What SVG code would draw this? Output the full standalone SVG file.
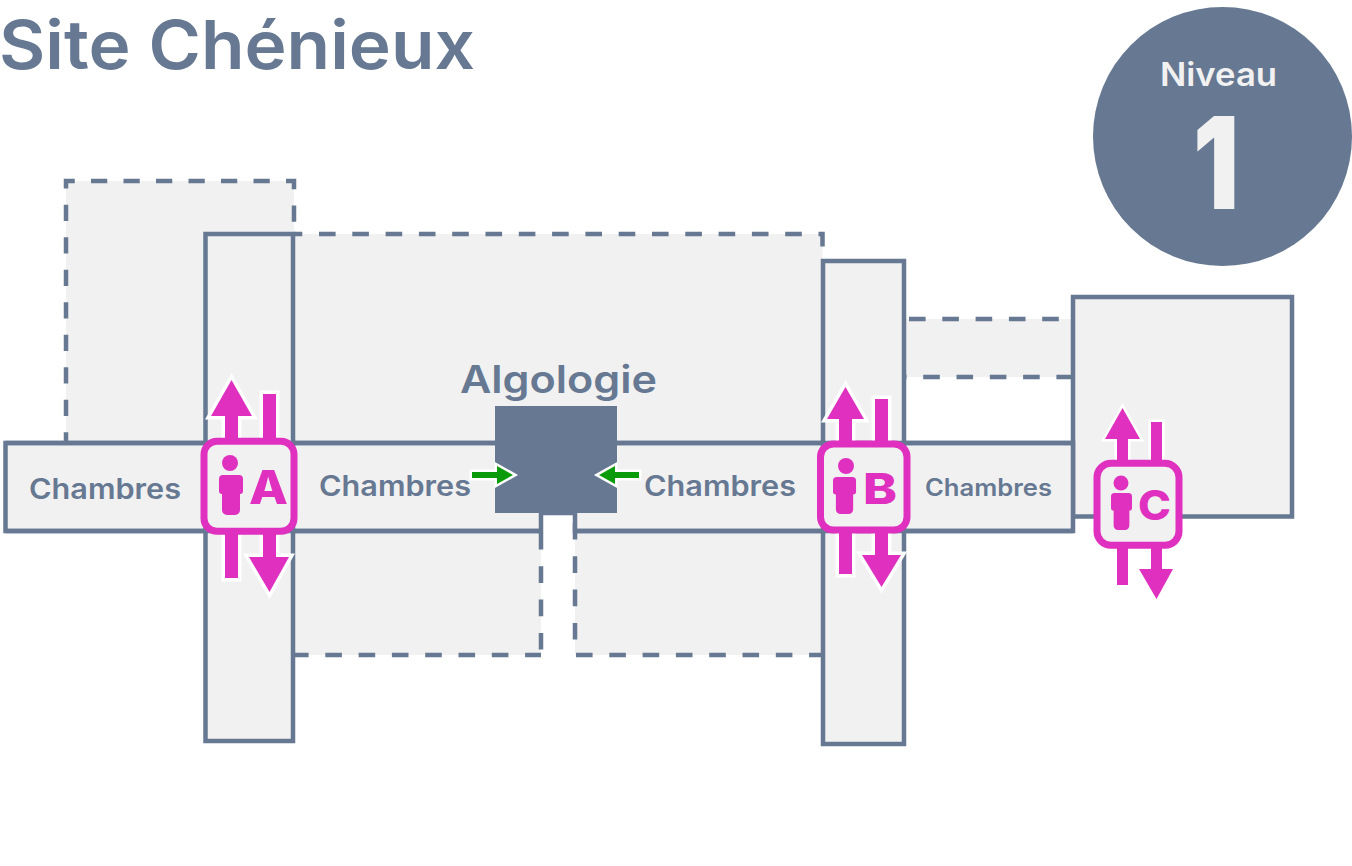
<svg xmlns="http://www.w3.org/2000/svg" width="1352" height="866" viewBox="0 0 1352 866">
<style>
text{font-family:Inter,"Liberation Sans",sans-serif}
.lbl{fill:#667892;font-weight:600}
.room{fill:#f1f1f1;stroke:#667892;stroke-width:4.500}
.fill{fill:#f1f1f1;stroke:none}
.dash{fill:none;stroke:#667892;stroke-width:4.500;stroke-dasharray:16.6 16.7}
.solid{fill:none;stroke:#667892;stroke-width:4.500}
.arrow{fill:#e030bf;stroke:#fff;stroke-width:7;paint-order:stroke;stroke-miterlimit:8}
.arrowc{fill:#e030bf;stroke:#fff;stroke-width:5;paint-order:stroke;stroke-miterlimit:8}
.frame{fill:#f1f1f1;stroke:#e030bf;stroke-width:7}
.mag{fill:#e030bf}
.let{fill:#e030bf;font-weight:800}
.green{fill:#0a9b0a;stroke:#fff;stroke-width:5;paint-order:stroke;stroke-miterlimit:8}
</style>
<defs>
<path id="person" d="M4,0H20a4,4 0 0 1 4,4V16a3,3 0 0 1 -3,3V35a5,5 0 0 1 -5,5H8a5,5 0 0 1 -5,-5V19a3,3 0 0 1 -3,-3V4a4,4 0 0 1 4,-4Z"/>
</defs>
<rect width="1352" height="866" fill="#fff"/>
<g id="title"><text class="lbl" x="-1" y="69" font-size="67" textLength="476" lengthAdjust="spacingAndGlyphs">Site Chénieux</text></g>
<g id="badge">
<circle cx="1222.5" cy="136.5" r="129.5" fill="#667892"/>
<text x="1160" y="86" font-size="32" font-weight="600" fill="#f1f1f1" textLength="117" lengthAdjust="spacingAndGlyphs">Niveau</text>
<text x="1193" y="209" font-size="128" font-weight="900" fill="#f1f1f1" textLength="46" lengthAdjust="spacingAndGlyphs">1</text>
</g>
<g id="room-top-left">
<rect class="fill" x="66" y="181" width="228" height="262"/>
<path d="M66,443V181H294V234" class="dash" style="stroke-dasharray:16.25 16.25;stroke-dashoffset:5.5"/>
</g>
<g id="room-center">
<rect class="fill" x="294" y="234" width="528.5" height="209"/>
<path d="M294,234H822.5V262" class="dash" style="stroke-dashoffset:8.3"/>
</g>
<g id="room-lower-left">
<rect class="fill" x="293" y="531" width="248" height="124"/>
<path d="M292,655H541" class="dash"/>
<path d="M541,533V655" class="dash"/>
</g>
<g id="room-lower-right">
<rect class="fill" x="575" y="531" width="247" height="124"/>
<path d="M576,655H822" class="dash"/>
<path d="M575,523V655" class="dash"/>
</g>
<g id="room-link">
<rect class="fill" x="904" y="319" width="169" height="58"/>
<path d="M909,319H1073" class="dash"/>
<path d="M1073,377H904" class="dash"/>
</g>
<g id="room-right"><rect class="room" x="1073" y="297" width="219" height="219.500"/></g>
<g id="corridor">
<path class="room" d="M5.500,443H1073V531H575V513H541V531H5.500Z"/>
</g>
<g id="wing-a"><rect class="room" x="205.500" y="234" width="87.500" height="507"/></g>
<g id="wing-b"><rect class="room" x="823" y="261" width="81" height="483"/></g>
<g id="corridor-lines"><path class="solid" d="M5.500,443H1073M5.500,531H541M575,531H1073"/></g>
<g id="algologie">
<rect x="495" y="406" width="122" height="107" fill="#667892"/>
<text class="lbl" x="460" y="393" font-size="38" textLength="197" lengthAdjust="spacingAndGlyphs">Algologie</text>
</g>
<g id="labels">
<text class="lbl" x="29" y="499" font-size="28" textLength="152" lengthAdjust="spacingAndGlyphs">Chambres</text>
<text class="lbl" x="319" y="496" font-size="28" textLength="152" lengthAdjust="spacingAndGlyphs">Chambres</text>
<text class="lbl" x="644" y="496" font-size="28" textLength="152" lengthAdjust="spacingAndGlyphs">Chambres</text>
<text class="lbl" x="925" y="496" font-size="24" textLength="127" lengthAdjust="spacingAndGlyphs">Chambres</text>
</g>
<g id="connectors">
<polygon class="green" points="472,472 497,472 497,466 513,475 497,484 497,478 472,478"/>
<polygon class="green" points="639,472 615,472 615,466 599,475 615,484 615,478 639,478"/>
</g>
<g id="lift-a">
<polygon class="arrow" points="225,445 225,416 211,416 231.500,380 252,416 238,416 238,445"/>
<rect class="arrow" x="263" y="394" width="13" height="50"/>
<rect class="arrow" x="225" y="525" width="13" height="53"/>
<polygon class="arrow" points="263,525 263,557 249,557 269.500,592 289,557 276,557 276,525"/>
<rect class="frame" x="204" y="441.300" width="90" height="90" rx="13"/>
<circle class="mag" cx="230" cy="463" r="8"/>
<use href="#person" class="mag" transform="translate(219,475)"/>
<text class="let" x="249" y="504" font-size="46" textLength="39" lengthAdjust="spacingAndGlyphs">A</text>
</g>
<g id="lift-b">
<polygon class="arrow" points="839,448 839,419 827,419 845.500,387 864,419 852,419 852,448"/>
<rect class="arrow" x="875" y="399" width="13" height="50"/>
<rect class="arrow" x="839" y="525" width="13" height="49"/>
<polygon class="arrow" points="875,525 875,555 862,555 881.500,587 901,555 888,555 888,525"/>
<rect class="frame" x="820.500" y="444" width="86.500" height="86" rx="13"/>
<circle class="mag" cx="846" cy="466" r="8"/>
<use href="#person" class="mag" transform="translate(833,477) scale(.96,.925)"/>
<text class="let" x="863" y="504" font-size="43" textLength="34" lengthAdjust="spacingAndGlyphs">B</text>
</g>
<g id="lift-c">
<polygon class="arrowc" points="1117,468 1117,439 1105,439 1122.500,408 1140,439 1128,439 1128,468"/>
<rect class="arrowc" x="1151" y="422" width="11" height="45"/>
<rect class="arrowc" x="1117" y="540" width="11" height="45"/>
<polygon class="arrowc" points="1151,540 1151,569 1139,569 1156.500,599 1173,569 1162,569 1162,540"/>
<rect class="frame" x="1097" y="463.300" width="82" height="82" rx="14"/>
<circle class="mag" cx="1121" cy="483" r="7.500"/>
<use href="#person" class="mag" transform="translate(1111,493) scale(.875,.925)"/>
<text class="let" x="1138" y="520" font-size="41" textLength="33" lengthAdjust="spacingAndGlyphs">C</text>
</g>
</svg>
